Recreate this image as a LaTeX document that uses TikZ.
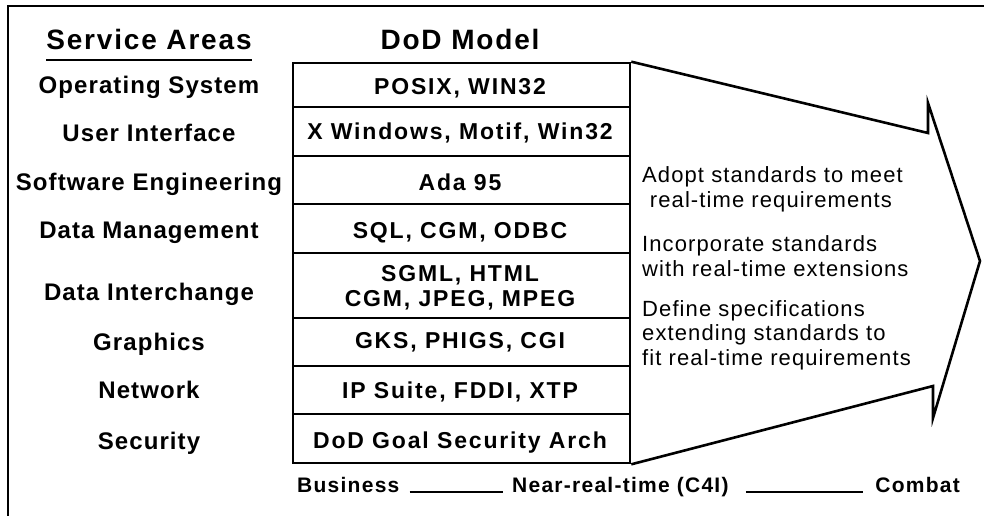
\documentclass[tikz,border=0pt]{standalone}
\usepackage{fontspec}
\setmainfont{Liberation Sans}
\newfontfamily\fhead{Liberation Sans}[LetterSpace=6.5]
\newfontfamily\flab{Liberation Sans}[LetterSpace=4.5]
\newfontfamily\fcell{Liberation Sans}[LetterSpace=8]
\newfontfamily\fnote{Liberation Sans}[LetterSpace=5]
\newfontfamily\fscale{Liberation Sans}[LetterSpace=6]
\begin{document}
\begin{tikzpicture}[x=1pt,y=-1pt,
  head/.style={font=\fhead\bfseries\fontsize{28}{32}\selectfont, inner sep=0pt, text height=20pt, text depth=0pt},
  area/.style={font=\flab\bfseries\fontsize{24}{28}\selectfont, inner sep=0pt, text height=17.2pt, text depth=0pt},
  cell/.style={draw, line width=2.6pt, minimum width=337pt, inner sep=0pt},
  celltext/.style={font=\fcell\bfseries\fontsize{23}{27}\selectfont, inner sep=0pt, text height=16.5pt, text depth=0pt},
  note/.style={font=\fnote\fontsize{22}{24.5}\selectfont, align=left, inner sep=0pt, anchor=base west},
  scalelab/.style={font=\fscale\bfseries\fontsize{21}{25}\selectfont, inner sep=0pt, text height=15pt, text depth=0pt},
  frameline/.style={line width=2pt},
  outline/.style={line width=2.6pt, line join=miter},
  thin/.style={line width=1.4pt}
]
\useasboundingbox (0,0) rectangle (984,516);
% frame
\draw[frameline] (8,516) -- (8,6) -- (984,6);
% headers
\node[head] (hsa) at (149,40) {Service Areas};
\draw[line width=1.8pt] ([yshift=-10pt]hsa.south west) -- ([yshift=-10pt]hsa.south east);
\node[head] (hdod) at (460,40) {DoD Model};
% cells
\node[cell, minimum height=44pt] (r1) at (461.5,85) {};
\node[cell, minimum height=49pt] (r2) at (461.5,131.5) {};
\node[cell, minimum height=48pt] (r3) at (461.5,180) {};
\node[cell, minimum height=49pt] (r4) at (461.5,228.5) {};
\node[cell, minimum height=65pt] (r5) at (461.5,285.5) {};
\node[cell, minimum height=48pt] (r6) at (461.5,342) {};
\node[cell, minimum height=48pt] (r7) at (461.5,390) {};
\node[cell, minimum height=49pt] (r8) at (461.5,438.5) {};
\node[celltext] (t1) at (460,86) {POSIX, WIN32};
\node[celltext] (t2) at (460,131) {X Windows, Motif, Win32};
\node[celltext] (t3) at (460,182) {Ada 95};
\node[celltext] (t4) at (460,230) {SQL, CGM, ODBC};
\node[celltext] (t5a) at (460,273) {SGML, HTML};
\node[celltext] (t5b) at (460,298) {CGM, JPEG, MPEG};
\node[celltext] (t6) at (460,340) {GKS, PHIGS, CGI};
\node[celltext] (t7) at (460,390) {IP Suite, FDDI, XTP};
\node[celltext] (t8) at (460,440) {DoD Goal Security Arch};
% areas
\node[area] (a1) at (149,85) {Operating System};
\node[area] (a2) at (149,133) {User Interface};
\node[area] (a3) at (149,182) {Software Engineering};
\node[area] (a4) at (149,230) {Data Management};
\node[area] (a5) at (149,292) {Data Interchange};
\node[area] (a6) at (149,342) {Graphics};
\node[area] (a7) at (149,390) {Network};
\node[area] (a8) at (149,441) {Security};
% arrow
\coordinate (n1) at (928,133);
\coordinate (n2) at (928,103);
\coordinate (tip) at (980,261);
\coordinate (n3) at (933,418);
\coordinate (n4) at (933,386);
\draw[outline] (r1.north east) -- (n1) -- (n2) -- (tip) -- (n3) -- (n4) -- (r8.south east);
% notes (anchored at the baseline of the last line)
\node[note] (p1) at (642,207) {Adopt standards to meet\\\hspace{0.35em}real-time requirements};
\node[note] (p2) at (642,276) {Incorporate standards\\with real-time extensions};
\node[note] (p3) at (642,365) {Define specifications\\extending standards to\\fit real-time requirements};
% scale
\node[scalelab, anchor=west] (s1) at (297,485) {Business};
\node[scalelab, anchor=west] (s2) at (512,485) {Near-real-time (C4I)};
\node[scalelab, anchor=east] (s3) at (960,485) {Combat};
\draw[thin] ([xshift=10pt,yshift=-7pt]s1.east) -- ([xshift=-9pt,yshift=-7pt]s2.west);
\draw[thin] ([xshift=17pt,yshift=-7pt]s2.east) -- ([xshift=-12pt,yshift=-7pt]s3.west);
\end{tikzpicture}
\end{document}
